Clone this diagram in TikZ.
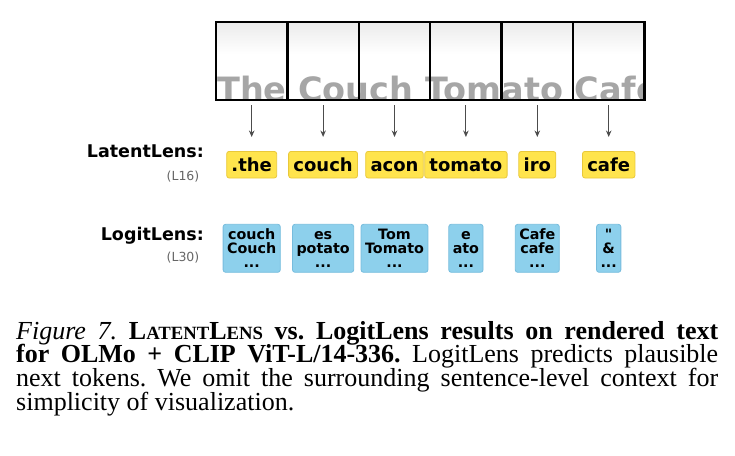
\documentclass[tikz,border=0pt]{standalone}
\usepackage{fontspec}
\usepackage{tikz}
\usetikzlibrary{arrows.meta, positioning, backgrounds}
\usepackage{xcolor}

\newfontfamily\dejavu{DejaVu Sans}
\newfontfamily\capfont{Liberation Serif}
\definecolor{latfill}{HTML}{FFE44D}
\definecolor{latdraw}{HTML}{E9C83A}
\definecolor{logfill}{HTML}{8DD0EC}
\definecolor{logdraw}{HTML}{76BCDD}
\newcommand{\fakesc}[2]{#1{\fontsize{18.7}{18.7}\selectfont #2}}
\newcommand{\guesses}[2]{\vphantom{Ch}#1\\#2\\...}

\begin{document}
\begin{tikzpicture}[
    x=1pt, y=-1pt,
    node distance=0pt,
    cell/.style={rectangle, draw=black, line width=2.3pt, minimum width=71.4pt, minimum height=78pt, inner sep=0pt, outer sep=0pt},
    lat/.style={rectangle, rounded corners=2.5pt, draw=latdraw, fill=latfill, line width=0.8pt, inner xsep=4.8pt, inner ysep=3pt, text height=17pt, text depth=3.6pt, font=\dejavu\bfseries\fontsize{18}{18}\selectfont},
    logit/.style={rectangle, rounded corners=2.5pt, draw=logdraw, fill=logfill, line width=0.8pt, inner xsep=4pt, inner ysep=0pt, minimum height=48pt, align=center, font=\dejavu\bfseries\fontsize{14.3}{13.8}\selectfont},
    rowlbl/.style={inner sep=0pt, font=\dejavu\bfseries\fontsize{17.5}{17.5}\selectfont},
    layer/.style={inner sep=0pt, text=black!60, font=\dejavu\fontsize{12.5}{12.5}\selectfont},
    arr/.style={-{Stealth[length=6.5pt, width=5.5pt]}, draw=black!70, line width=1pt, shorten <=5pt, shorten >=14pt}
]
\useasboundingbox (0,0) rectangle (735,455);

% rendered text strip
\node[cell] (c1) at (251.7,61) {};
\node[cell, right=of c1] (c2) {};
\node[cell, right=of c2] (c3) {};
\node[cell, right=of c3] (c4) {};
\node[cell, right=of c4] (c5) {};
\node[cell, right=of c5] (c6) {};

\begin{scope}[on background layer]
    \shade[top color=black!8, bottom color=white] (c1.north west) rectangle ([yshift=-32pt]c6.north east);
    \clip (c1.north west) rectangle (c6.south east);
    \node[anchor=base west, inner sep=0pt, text=black!35, font=\dejavu\bfseries\fontsize{33.5}{33.5}\selectfont] (word) at ([xshift=1pt, yshift=-1.5pt]c1.south west) {The Couch Tomato Café};
\end{scope}

% LatentLens
\node[rowlbl, anchor=base east] (latlbl) at (204,157) {LatentLens:};
\node[layer, anchor=base east] (l16) at (199.5,180) {(L16)};
\node[lat, below=51pt of c1] (t1) {.the};
\node[lat, below=51pt of c2] (t2) {couch};
\node[lat, below=51pt of c3] (t3) {acon};
\node[lat, below=51pt of c4] (t4) {tomato};
\node[lat, below=51pt of c5] (t5) {iro};
\node[lat, below=51pt of c6] (t6) {cafe};

\draw[arr] (c1) -- (t1);
\draw[arr] (c2) -- (t2);
\draw[arr] (c3) -- (t3);
\draw[arr] (c4) -- (t4);
\draw[arr] (c5) -- (t5);
\draw[arr] (c6) -- (t6);

% LogitLens
\node[rowlbl, anchor=base east] (loglbl) at (204,240) {LogitLens:};
\node[layer, anchor=base east] (l30) at (199.5,261) {(L30)};
\node[logit, below=45.5pt of t1] (g1) {\guesses{couch}{Couch}};
\node[logit, below=45.5pt of t2] (g2) {\guesses{es}{potato}};
\node[logit, below=45.5pt of t3] (g3) {\guesses{Tom}{Tomato}};
\node[logit, below=45.5pt of t4] (g4) {\guesses{e}{ato}};
\node[logit, below=45.5pt of t5] (g5) {\guesses{Cafe}{cafe}};
\node[logit, below=45.5pt of t6] (g6) {\guesses{"}{\&}};

% caption
\node[anchor=north west, inner sep=0pt, text width=702pt, align=justify, font={\capfont\fontsize{26}{23.7}\selectfont\frenchspacing\lineskiplimit=-30pt}] (caption) at (16,321)
    {{\itshape Figure 7.} \textbf{\fakesc{L}{ATENT}\fakesc{L}{ENS} vs. LogitLens results on rendered text\linebreak
    for OLMo + CLIP ViT-L/14-336.} LogitLens predicts plausible\linebreak
    next tokens. We omit the surrounding sentence-level context for\linebreak
    simplicity of visualization.};

\end{tikzpicture}
\end{document}
